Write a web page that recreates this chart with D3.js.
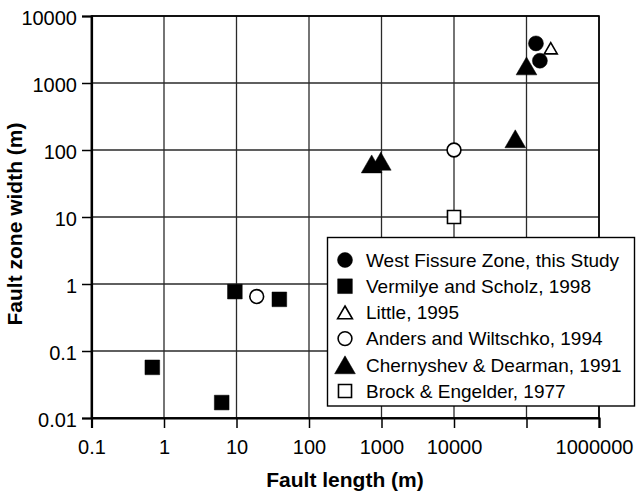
<!DOCTYPE html>
<html>
<head>
<meta charset="utf-8">
<script src="https://cdn.jsdelivr.net/npm/d3@7"></script>
<style>
  body { margin: 0; background: #fff; }
  text { font-family: "Liberation Sans", Arial, Helvetica, sans-serif; }
</style>
</head>
<body>
<script>

// data: [fault length (m), fault zone width (m)]
var westFissure = [[135000, 3900], [153000, 2150]];
var vermilyeScholz = [[9.5, 0.77], [39, 0.59], [0.69, 0.057], [6.25, 0.017]];
var little = [[216000, 3300]];
var andersWiltschko = [[10000, 100], [19, 0.65]];
var chernyshevDearman = [[100000, 1800], [70000, 147], [732, 62], [977, 68]];
var brockEngelder = [[10000, 10]];

var seriesNames = ['West Fissure Zone, this Study', 'Vermilye and Scholz, 1998', 'Little, 1995',
  'Anders and Wiltschko, 1994', 'Chernyshev & Dearman, 1991', 'Brock & Engelder, 1977'];

var xTicks = [0.1, 1, 10, 100, 1000, 10000, 100000, 1000000];
var yTicks = [0.01, 0.1, 1, 10, 100, 1000, 10000];

// svg board properties
var dimensions = { width: 637, height: 496 };
var margin = { top: 16, right: 38, bottom: 78, left: 91.5 };
var plotW = dimensions.width - margin.left - margin.right;
var plotH = dimensions.height - margin.top - margin.bottom;

var svg = d3.select('body')
  .append('svg').attr('width', dimensions.width).attr('height', dimensions.height);

var g = svg.append('g').attr('transform', 'translate(' + margin.left + ',' + margin.top + ')');

var x = d3.scaleLog().domain([0.1, 1000000]).range([0, plotW]);
var y = d3.scaleLog().domain([0.01, 10000]).range([plotH, 0]);

// grid
g.selectAll('.vgrid').data(xTicks).enter().append('line')
  .attr('x1', function(d) { return x(d); }).attr('x2', function(d) { return x(d); })
  .attr('y1', 0).attr('y2', plotH)
  .attr('stroke', '#2a2a2a').attr('stroke-width', 1.3);
g.selectAll('.hgrid').data(yTicks).enter().append('line')
  .attr('x1', 0).attr('x2', plotW)
  .attr('y1', function(d) { return y(d); }).attr('y2', function(d) { return y(d); })
  .attr('stroke', '#2a2a2a').attr('stroke-width', 1.3);

g.append('rect').attr('width', plotW).attr('height', plotH)
  .attr('fill', 'none').attr('stroke', '#000').attr('stroke-width', 1.6);

// axes
var xAxis = d3.axisBottom(x).tickValues(xTicks).tickSize(10).tickPadding(12)
  .tickFormat(function(d) { return d === 100000 ? '' : String(d); });
var yAxis = d3.axisLeft(y).tickValues(yTicks).tickSize(9.5).tickPadding(5)
  .tickFormat(function(d) { return String(d); });

var gx = g.append('g').attr('transform', 'translate(0,' + plotH + ')').call(xAxis);
var gy = g.append('g').call(yAxis);

[gx, gy].forEach(function(a) {
  a.select('.domain').attr('stroke', '#000').attr('stroke-width', 2.2);
  a.selectAll('.tick line').attr('stroke', '#000').attr('stroke-width', 1.5);
  a.selectAll('.tick text').attr('fill', '#000')
    .style('font-family', '"Liberation Sans", Arial, sans-serif').style('font-size', '20px');
});
gy.selectAll('.tick text').attr('dy', '0.42em');
// last label is pulled in so it stays inside the page
gx.selectAll('.tick text').filter(function(d) { return d === 1000000; }).attr('dx', -5);

// axis titles
svg.append('text').attr('x', 345).attr('y', 486.5).attr('text-anchor', 'middle')
  .style('font-size', '21px').style('font-weight', 'bold').text('Fault length (m)');
svg.append('text').attr('transform', 'translate(22,224) rotate(-90)').attr('text-anchor', 'middle')
  .style('font-size', '21px').style('font-weight', 'bold').text('Fault zone width (m)');

// marker styles for each series
var styles = [
  { type: d3.symbolCircle, size: 177, fill: '#000', tri: false },
  { type: d3.symbolSquare, size: 216, fill: '#000', tri: false },
  { type: d3.symbolTriangle, size: 73, fill: '#fff', tri: true },
  { type: d3.symbolCircle, size: 150, fill: '#fff', tri: false },
  { type: d3.symbolTriangle, size: 186, fill: '#000', tri: true },
  { type: d3.symbolSquare, size: 170, fill: '#fff', tri: false }
];
var allSeries = [westFissure, vermilyeScholz, little, andersWiltschko, chernyshevDearman, brockEngelder];

// shift triangles so the box centre (not the centroid) sits on the point
var triShift = function(size) {
  return Math.sqrt(size / (3 * Math.sqrt(3))) / 2;
};

var drawOrder = [5, 3, 1, 4, 0, 2];
drawOrder.forEach(function(i) {
  var st = styles[i];
  var off = st.tri ? triShift(st.size) : 0;
  g.selectAll('.s' + i).data(allSeries[i]).enter().append('path')
    .attr('d', d3.symbol().type(st.type).size(st.size))
    .attr('transform', function(d) { return 'translate(' + x(d[0]) + ',' + (y(d[1]) + off) + ')'; })
    .attr('fill', st.fill)
    .attr('stroke', '#000').attr('stroke-width', st.fill === '#fff' ? 1.6 : 0.5);
});

// legend
var legend = svg.append('g').attr('transform', 'translate(327.5,237.5)');
legend.append('rect').attr('width', 307).attr('height', 168.5)
  .attr('fill', '#fff').attr('stroke', '#000').attr('stroke-width', 1.4);

var rows = legend.selectAll('.row').data(seriesNames).enter().append('g')
  .attr('transform', function(d, i) { return 'translate(0,' + (22.5 + i * 26.2) + ')'; });

rows.append('path')
  .attr('d', function(d, i) { return d3.symbol().type(styles[i].type).size(styles[i].tri && i === 2 ? 95 : styles[i].size)(); })
  .attr('transform', function(d, i) {
    var off = styles[i].tri ? triShift(i === 2 ? 95 : styles[i].size) : 0;
    return 'translate(17.5,' + off + ')';
  })
  .attr('fill', function(d, i) { return styles[i].fill; })
  .attr('stroke', '#000')
  .attr('stroke-width', function(d, i) { return styles[i].fill === '#fff' ? 1.6 : 0.5; });

rows.append('text').attr('x', 38.5).attr('y', 6.7)
  .style('font-size', '19px').text(function(d) { return d; });

</script>
</body>
</html>
